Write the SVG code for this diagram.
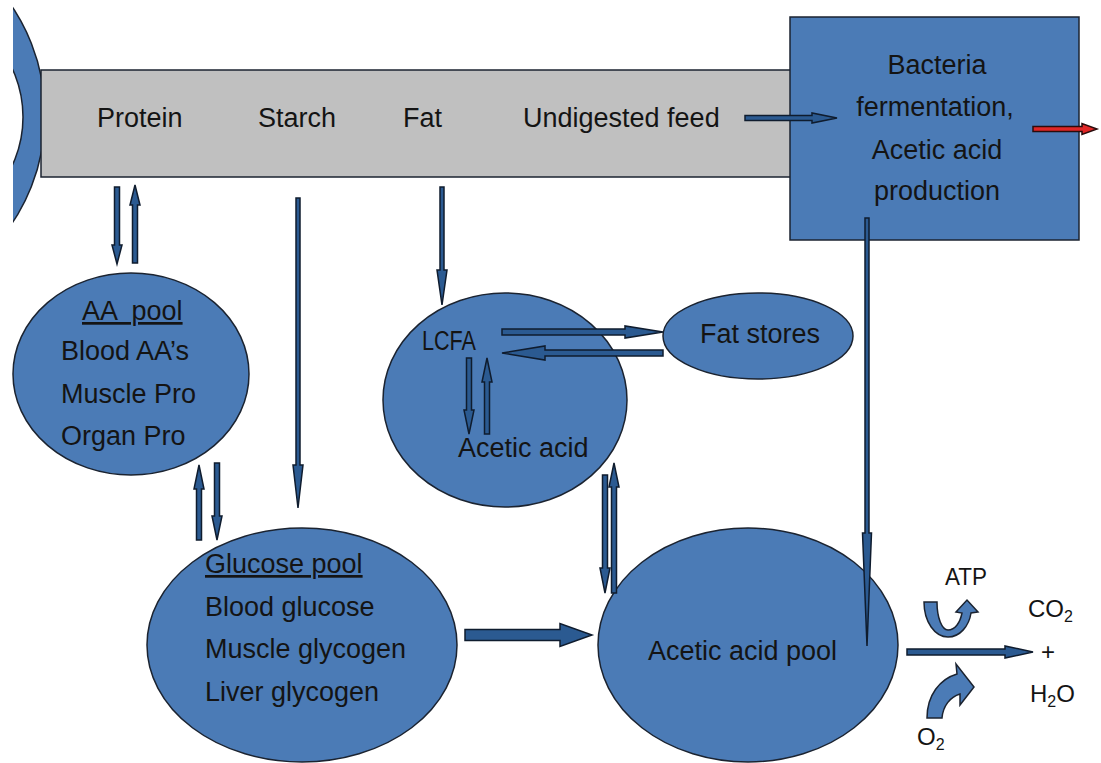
<svg xmlns="http://www.w3.org/2000/svg" width="1101" height="763" viewBox="0 0 1101 763">
<style>
.shape{fill:#4b7bb6;stroke:#1b2330;stroke-width:1.5}
.tube{fill:#c0c0c0;stroke:#1b2330;stroke-width:1.5}
.t{font-family:"Liberation Sans",Arial,sans-serif;font-size:27px;fill:#141414}
.s{font-family:"Liberation Sans",Arial,sans-serif;font-size:24px;fill:#141414}
.sub{font-size:16px}
.arr{fill:#2b5a91;stroke:#0f1c2e;stroke-width:1.5}
.red{fill:#e02626;stroke:#2a0d0d;stroke-width:1.5}
</style>
<rect x="0" y="0" width="1101" height="763" fill="#ffffff"/>
<g id="mouth">
<circle cx="-150" cy="115" r="195" class="shape"/>
<circle cx="-92" cy="117" r="115" fill="#ffffff" stroke="#1b2330" stroke-width="1.5"/>
<rect x="0" y="0" width="13" height="260" fill="#ffffff"/>
</g>
<g id="tube">
<rect x="41" y="70" width="760" height="107" class="tube"/>
<text class="t" x="97" y="127">Protein</text>
<text class="t" x="258" y="127">Starch</text>
<text class="t" x="403" y="127">Fat</text>
<text class="t" x="523" y="127">Undigested feed</text>
</g>
<g id="bacteria">
<rect x="790" y="17" width="289" height="223" class="shape"/>
<text class="t" x="937" y="74" text-anchor="middle">Bacteria</text>
<text class="t" x="935" y="116" text-anchor="middle">fermentation,</text>
<text class="t" x="937" y="159" text-anchor="middle">Acetic acid</text>
<text class="t" x="937" y="200" text-anchor="middle">production</text>
</g>
<g id="aa-pool">
<ellipse cx="131" cy="374" rx="118" ry="101" class="shape"/>
<text class="t" x="82" y="320" text-decoration="underline" xml:space="preserve">AA  pool</text>
<text class="t" x="61" y="360">Blood AA’s</text>
<text class="t" x="61" y="403">Muscle Pro</text>
<text class="t" x="61" y="445">Organ Pro</text>
</g>
<g id="lcfa">
<ellipse cx="505" cy="400" rx="122" ry="107" class="shape"/>
<text class="t" x="422" y="350" textLength="54" lengthAdjust="spacingAndGlyphs">LCFA</text>
<text class="t" x="458" y="457">Acetic acid</text>
</g>
<g id="fat-stores">
<ellipse cx="758" cy="336" rx="95" ry="43" class="shape"/>
<text class="t" x="700" y="343">Fat stores</text>
</g>
<g id="glucose-pool">
<ellipse cx="302" cy="645" rx="155" ry="117" class="shape"/>
<text class="t" x="205" y="573" text-decoration="underline">Glucose pool</text>
<text class="t" x="205" y="616">Blood glucose</text>
<text class="t" x="205" y="658">Muscle glycogen</text>
<text class="t" x="205" y="701">Liver glycogen</text>
</g>
<g id="acetic-pool">
<ellipse cx="748" cy="645" rx="150" ry="117" class="shape"/>
<text class="t" x="648" y="660">Acetic acid pool</text>
</g>
<g id="products">
<text class="s" x="945" y="585" textLength="42" lengthAdjust="spacingAndGlyphs">ATP</text>
<text class="s" x="1028" y="617">CO<tspan class="sub" dy="5">2</tspan></text>
<text class="s" x="1041" y="660">+</text>
<text class="s" x="1030" y="702">H<tspan class="sub" dy="5">2</tspan><tspan dy="-5">O</tspan></text>
<text class="s" x="917" y="745">O<tspan class="sub" dy="5">2</tspan></text>
</g>
<g id="connectors">
<!-- protein down / up -->
<path class="arr" d="M114.5,187 L119.5,187 L119.5,245 L122,245 L117,264 L112,245 L114.5,245 Z"/>
<path class="arr" d="M132.5,263 L137.5,263 L137.5,205 L140,205 L135,185 L130,205 L132.5,205 Z"/>
<!-- starch down -->
<path class="arr" d="M296,198 L300,198 L300,465 L303,465 L298,508 L293,465 L296,465 Z"/>
<!-- fat down -->
<path class="arr" d="M440,187 L444,187 L444,270 L447,270 L442,305 L437,270 L440,270 Z"/>
<!-- bacteria down -->
<path class="arr" d="M865,218 L869,218 L869,533 L871.5,533 L867,646 L862.5,533 L865,533 Z"/>
<!-- undigested -> bacteria -->
<path class="arr" d="M745,115.5 L812,115.5 L812,113 L837,118 L812,123 L812,120.5 L745,120.5 Z"/>
<!-- red out -->
<path class="red" d="M1033,126.5 L1082,126.5 L1082,123.5 L1097,129 L1082,134.5 L1082,131.5 L1033,131.5 Z"/>
<!-- LCFA -> fat stores -->
<path class="arr" d="M502,329 L625,329 L625,326 L663,332 L625,338 L625,335 L502,335 Z"/>
<!-- fat stores -> LCFA -->
<path class="arr" d="M663,350 L545,350 L545,346 L502,353 L545,360 L545,356 L663,356 Z"/>
<!-- LCFA <-> acetic acid -->
<path class="arr" d="M466.5,358 L471.5,358 L471.5,410 L474,410 L469,434 L464,410 L466.5,410 Z"/>
<path class="arr" d="M484.5,434 L489.5,434 L489.5,382 L492,382 L487,358 L482,382 L484.5,382 Z"/>
<!-- AA <-> glucose -->
<path class="arr" d="M196.5,540 L201.5,540 L201.5,489 L204,489 L199,465 L194,489 L196.5,489 Z"/>
<path class="arr" d="M214.5,463 L219.5,463 L219.5,516 L222,516 L217,540 L212,516 L214.5,516 Z"/>
<!-- LCFA <-> acetic pool -->
<path class="arr" d="M602.5,475 L607.5,475 L607.5,568 L610,568 L605,593 L600,568 L602.5,568 Z"/>
<path class="arr" d="M611.5,593 L616.5,593 L616.5,487 L619,487 L614,463 L609,487 L611.5,487 Z"/>
<!-- glucose -> acetic pool -->
<path class="arr" d="M465,629.5 L560,629.5 L560,623.5 L592,635 L560,646.5 L560,640.5 L465,640.5 Z"/>
<!-- acetic pool -> CO2 -->
<path class="arr" d="M907,649 L1005,649 L1005,646 L1033,652 L1005,658 L1005,655 L907,655 Z"/>
<!-- ATP curved arrow -->
<path class="shape" stroke-width="1.2" d="M924,602 C924,622 935,637 948,637 C960,637 969,626 971,613 L978,612 L967,600 L956,612 L962,613 C960,623 955,630 948,630 C942,630 937,618 937,602 Z"/>
<!-- O2 curved arrow -->
<path class="shape" stroke-width="1.2" d="M927,718 C927,695 940,679 957,674 L956,664 L974,687 L960,705 L960,694 C950,697 943,706 942,718 Z"/>
</g>
</svg>
